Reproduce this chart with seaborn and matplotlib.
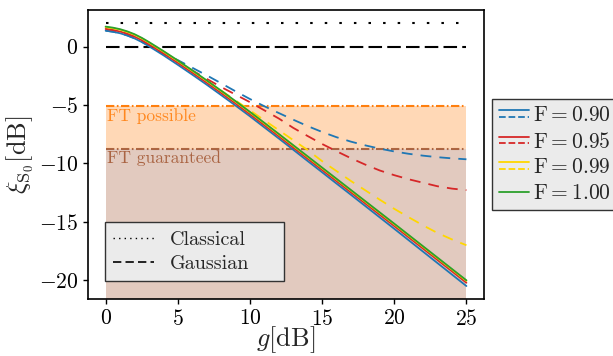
import numpy as np
import pandas as pd
import matplotlib
matplotlib.use('Agg')
import matplotlib.pyplot as plt
import seaborn as sns
from matplotlib.lines import Line2D
from matplotlib.legend_handler import HandlerBase

# gain in dB (finer near the top where the curves bend)
g_db = [0, 0.5, 1, 1.5, 2, 2.5, 3, 4, 5, 6, 7, 8, 9, 10, 11, 12, 13, 14, 15, 16, 17, 18, 19, 20, 21, 22, 23, 24, 25]

# solid curves
xi_f090 = [1.37, 1.28, 1.15, 0.96, 0.71, 0.40, 0.04, -0.73, -1.55, -2.39, -3.25, -4.14, -5.04, -5.96, -6.91, -7.86,
           -8.82, -9.79, -10.75, -11.72, -12.68, -13.65, -14.62, -15.59, -16.57, -17.55, -18.53, -19.51, -20.49]
xi_f095 = [1.52, 1.43, 1.30, 1.11, 0.87, 0.56, 0.20, -0.57, -1.38, -2.22, -3.08, -3.96, -4.86, -5.78, -6.72, -7.67,
           -8.63, -9.59, -10.55, -11.51, -12.47, -13.43, -14.39, -15.35, -16.32, -17.29, -18.26, -19.23, -20.21]
xi_f099 = [1.67, 1.58, 1.45, 1.26, 1.02, 0.71, 0.35, -0.42, -1.23, -2.07, -2.93, -3.81, -4.71, -5.63, -6.57, -7.52,
           -8.48, -9.44, -10.40, -11.36, -12.32, -13.28, -14.24, -15.20, -16.17, -17.14, -18.11, -19.08, -20.05]
xi_f100 = [1.72, 1.63, 1.50, 1.31, 1.07, 0.76, 0.40, -0.37, -1.18, -2.02, -2.88, -3.76, -4.66, -5.58, -6.52, -7.47,
           -8.43, -9.39, -10.35, -11.31, -12.27, -13.23, -14.19, -15.15, -16.12, -17.09, -18.06, -19.03, -20.00]

# dashed curves
xi_f090_d = [1.37, 1.28, 1.15, 0.96, 0.72, 0.42, 0.08, -0.58, -1.15, -1.80, -2.45, -3.13, -3.82, -4.48, -5.10, -5.68,
             -6.25, -6.80, -7.30, -7.75, -8.13, -8.45, -8.73, -8.97, -9.17, -9.33, -9.46, -9.56, -9.64]
xi_f095_d = [1.52, 1.43, 1.30, 1.11, 0.87, 0.56, 0.20, -0.55, -1.28, -2.03, -2.75, -3.45, -4.10, -4.75, -5.45, -6.15,
             -6.95, -7.65, -8.33, -8.95, -9.55, -10.10, -10.60, -11.00, -11.35, -11.65, -11.95, -12.15, -12.28]
xi_f099_d = [1.67, 1.58, 1.45, 1.26, 1.02, 0.71, 0.35, -0.41, -1.22, -2.06, -2.90, -3.75, -4.60, -5.45, -6.30, -7.15,
             -8.00, -8.85, -9.80, -10.65, -11.50, -12.30, -13.10, -13.88, -14.60, -15.30, -15.95, -16.50, -17.00]

fidelity_labels = ['0.90', '0.95', '0.99', '1.00']
colors = ['#1f77b4', '#d62728', '#ffd700', '#2ca02c']

classical = 2.0
gaussian = 0.0
ft_possible = -5.1
ft_guaranteed = -8.74

sns.set_theme(style='ticks')
plt.rcParams.update({
    'font.family': 'serif',
    'font.serif': ['cmr10'],
    'mathtext.fontset': 'cm',
    'axes.formatter.use_mathtext': True,
    'axes.unicode_minus': True,
    'axes.edgecolor': 'black',
    'axes.linewidth': 1.2,
    'xtick.color': 'black',
    'ytick.color': 'black',
    'xtick.labelsize': 15.5,
    'ytick.labelsize': 15.5,
})

fig = plt.figure(figsize=(6.13, 3.56), dpi=100)
ax = fig.add_axes([0.1436, 0.1601, 0.646, 0.8118])
ylo, yhi = -21.6, 3.14

# shaded regions
ax.fill_between([g_db[0], g_db[-1]], ft_guaranteed, ft_possible, color='#ff7f0e', alpha=0.3, lw=0)
ax.fill_between([g_db[0], g_db[-1]], ylo, ft_guaranteed, color='#a0522d', alpha=0.3, lw=0)

dashdot = (0, (4, 1.2, 0.8, 1.2))
ax.hlines(ft_possible, g_db[0], g_db[-1], color='#ff7f0e', lw=1.5, linestyle=dashdot)
ax.hlines(ft_guaranteed, g_db[0], g_db[-1], color='#a0522d', lw=1.5, linestyle=dashdot, alpha=0.85)
ax.text(0.08, -5.95, 'FT possible', color='#ff7f0e', fontsize=12.5, va='center', alpha=0.9)
ax.text(0.08, -9.5, 'FT guaranteed', color='#a0522d', fontsize=12.5, va='center', alpha=0.85)

dotted = (0, (1.2, 5.8))
gdash = (0, (6.5, 2.5))
ax.hlines(classical, g_db[0], g_db[-1], color='black', lw=1.5, linestyle=dotted)
ax.hlines(gaussian, g_db[0], g_db[-1], color='black', lw=1.5, linestyle=gdash)

cdash = (0, (6, 4.5))
dashed_sets = [xi_f090_d, xi_f095_d, xi_f099_d]
for vals, c in zip(dashed_sets, colors[:3]):
    sns.lineplot(x=g_db, y=vals, ax=ax, color=c, lw=1.3, linestyle=cdash)

solid_sets = [xi_f090, xi_f095, xi_f099, xi_f100]
for vals, c in zip(solid_sets, colors):
    sns.lineplot(x=g_db, y=vals, ax=ax, color=c, lw=1.3)

ax.set_xlim(-1.22, 26.22)
ax.set_ylim(ylo, yhi)
ax.set_xticks([0, 5, 10, 15, 20, 25])
ax.set_yticks([0, -5, -10, -15, -20])
ax.set_xlabel(r'$g[\mathrm{dB}]$', fontsize=19, labelpad=-3)
ax.set_ylabel(r'$\xi_{\mathrm{S}_0}[\mathrm{dB}]$', fontsize=19, labelpad=2)
ax.tick_params(direction='out', length=3.5, width=1)


class HandlerStack(HandlerBase):
    # solid line on top, dashed below
    def create_artists(self, legend, orig_handle, xdescent, ydescent, width, height, fontsize, trans):
        n = len(orig_handle)
        yc = height / 2 - ydescent
        offs = [0] if n == 1 else [2.5, -2.5]
        arts = []
        for h, dy in zip(orig_handle, offs):
            ln = Line2D([-xdescent, width - xdescent], [yc + dy, yc + dy],
                        color=h.get_color(), linestyle=h.get_linestyle(), lw=h.get_linewidth())
            ln.set_transform(trans)
            arts.append(ln)
        return arts


f_handles = []
for i, c in enumerate(colors):
    solid = Line2D([], [], color=c, lw=1.3)
    if i < 3:
        dash = Line2D([], [], color=c, lw=1.3, linestyle=(0, (3, 2.5)))
        f_handles.append((solid, dash))
    else:
        f_handles.append((solid,))
f_labels = [rf'$\mathrm{{F}} = {v}$' for v in fidelity_labels]

leg1 = ax.legend(f_handles, f_labels, handler_map={tuple: HandlerStack()},
                 loc='center left', bbox_to_anchor=(1.021, 0.5), borderaxespad=0,
                 fontsize=15.5, handlelength=1.4, handletextpad=0.2, borderpad=0.3,
                 labelspacing=0.3, fancybox=False, framealpha=1,
                 facecolor='#ebebeb', edgecolor='#333333')
leg1.get_frame().set_linewidth(1.0)
ax.add_artist(leg1)

ref_handles = [Line2D([], [], color='black', lw=1.0, linestyle=(0, (1, 3))),
               Line2D([], [], color='black', lw=1.2, linestyle=(0, (5, 2.5)))]
leg2 = ax.legend(ref_handles, ['Classical', 'Gaussian'], loc='lower left',
                 bbox_to_anchor=(0.0437, 0.063, 0.45, 0.2), mode='expand', borderaxespad=0,
                 fontsize=14.5, labelspacing=0.3, fancybox=False, framealpha=1,
                 facecolor='#ebebeb', edgecolor='#333333')
leg2.get_frame().set_linewidth(1.0)

fig.savefig('out.png', dpi=100)
